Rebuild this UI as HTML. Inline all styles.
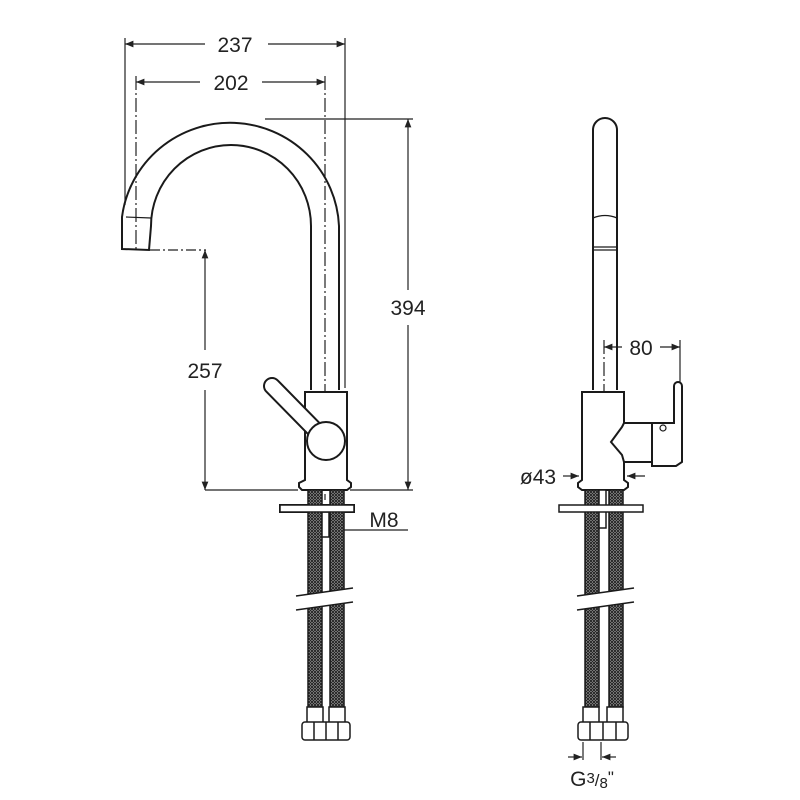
<!DOCTYPE html>
<html><head><style>html,body{margin:0;padding:0;background:#fff}svg{display:block}</style></head>
<body>
<svg width="800" height="800" viewBox="0 0 800 800" xmlns="http://www.w3.org/2000/svg" font-family="Liberation Sans, sans-serif">
<defs>
<pattern id="br" width="3" height="3" patternUnits="userSpaceOnUse">
<rect width="3" height="3" fill="#bbb"/><path d="M0 0L3 3M3 0L0 3" stroke="#222" stroke-width="1"/></pattern>
<marker id="ar" viewBox="0 0 10 10" refX="10" refY="5" markerWidth="7" markerHeight="7" orient="auto-start-reverse"><path d="M0 1L10 5L0 9z" fill="#222"/></marker>
</defs>
<g fill="none" stroke="#222" stroke-width="1.2">
<line x1="125" y1="38" x2="125" y2="205"/>
<line x1="345" y1="38" x2="345" y2="388"/>
<line x1="125" y1="44" x2="205" y2="44" marker-start="url(#ar)"/>
<line x1="268" y1="44" x2="345" y2="44" marker-end="url(#ar)"/>
<line x1="136" y1="76" x2="136" y2="250" stroke-dasharray="14 3 2 3"/>
<line x1="325" y1="76" x2="325" y2="500" stroke-dasharray="14 3 2 3"/>
<line x1="136" y1="82" x2="200" y2="82" marker-start="url(#ar)"/>
<line x1="262" y1="82" x2="325" y2="82" marker-end="url(#ar)"/>
<line x1="265" y1="119" x2="413" y2="119"/>
<line x1="408" y1="119" x2="408" y2="290" marker-start="url(#ar)"/>
<line x1="408" y1="325" x2="408" y2="490" marker-end="url(#ar)"/>
<line x1="350" y1="490" x2="413" y2="490"/>
<line x1="205" y1="490" x2="298" y2="490"/>
<line x1="150" y1="250" x2="206" y2="250" stroke-dasharray="10 3 2 3"/>
<line x1="205" y1="250" x2="205" y2="350" marker-start="url(#ar)"/>
<line x1="205" y1="390" x2="205" y2="490" marker-end="url(#ar)"/>
<line x1="330" y1="530" x2="408" y2="530"/>
<line x1="604" y1="340" x2="604" y2="505" stroke-dasharray="14 3 2 3"/>
<line x1="604" y1="347" x2="622" y2="347" marker-start="url(#ar)"/>
<line x1="660" y1="347" x2="680" y2="347" marker-end="url(#ar)"/>
<line x1="680" y1="340" x2="680" y2="385"/>
<line x1="563" y1="476" x2="579" y2="476" marker-end="url(#ar)"/>
<line x1="645" y1="476" x2="627" y2="476" marker-end="url(#ar)"/>
<line x1="583" y1="742" x2="583" y2="760"/><line x1="601" y1="742" x2="601" y2="760"/>
<line x1="568" y1="757" x2="582" y2="757" marker-end="url(#ar)"/>
<line x1="616" y1="757" x2="602" y2="757" marker-end="url(#ar)"/>
</g>
<g fill="none" stroke="#1a1a1a" stroke-width="2">
<path d="M339 390 V226 A109 108 0 0 0 122 217 L122 249 L149 250 L151 226 A80 81 0 0 1 311 226 V390"/>
<line x1="126" y1="217" x2="151" y2="218" stroke-width="1.2"/>
<path d="M305 392 H347 V480 L351 483 V487 L347 490 H302 L299 487 V483 L305 480 Z" fill="#fff"/>
<line x1="272" y1="386" x2="326" y2="441" stroke-width="18" stroke-linecap="round"/>
<line x1="272" y1="386" x2="326" y2="441" stroke="#fff" stroke-width="14" stroke-linecap="round"/>
<circle cx="326" cy="441" r="19" fill="#fff"/>
<rect x="280" y="505" width="74" height="7" fill="#fff"/>
<path d="M593 390 V130 A12 12 0 0 1 617 130 V390"/>
<path d="M593 218 Q605 213 617 218 M593 247 H617 M593 250 H617" stroke-width="1.3"/>
<path d="M582 392 H624 V480 L628 483 V487 L624 490 H582 L578 487 V483 L582 480 Z" fill="#fff"/>
<path d="M624 423 H652 V462 H624 L622 455 L611 442 L622 427 Z" fill="#fff"/>
<path d="M652 423 H674 V386 A4 4 0 0 1 682 386 V462 L676 466 H652 Z" fill="#fff"/>
<circle cx="663" cy="428" r="3" stroke-width="1.2"/>
</g>
<g stroke="#1a1a1a" stroke-width="1.5" fill="url(#br)">
<rect x="308" y="490" width="14" height="217"/><rect x="330" y="490" width="14" height="217"/>
<rect x="585" y="490" width="14" height="217"/><rect x="609" y="490" width="14" height="217"/>
<rect x="599" y="490" width="7" height="38" fill="#fff"/>
<rect x="322" y="512" width="7" height="25" fill="#fff"/>
</g>
<g stroke="#1a1a1a" stroke-width="1.5" fill="#fff">
<rect x="280" y="505" width="74" height="7"/><rect x="559" y="505" width="84" height="7"/>
<path d="M296 596 L353 588 L353 602 L296 610Z" stroke="none"/>
<path d="M296 596 L353 588 M296 610 L353 602"/>
<path d="M577 596 L634 588 L634 602 L577 610Z" stroke="none"/>
<path d="M577 596 L634 588 M577 610 L634 602"/>
<rect x="307" y="707" width="16" height="16"/><rect x="329" y="707" width="16" height="16"/>
<rect x="302" y="722" width="48" height="18" rx="3"/>
<path d="M314 722V740M326 722V740M338 722V740"/>
<rect x="583" y="707" width="16" height="16"/><rect x="607" y="707" width="16" height="16"/>
<rect x="578" y="722" width="50" height="18" rx="3"/>
<path d="M590 722V740M603 722V740M616 722V740"/>
</g>
<g fill="#222" font-size="21" text-anchor="middle">
<text x="235" y="52">237</text>
<text x="231" y="90">202</text>
<text x="408" y="315">394</text>
<text x="205" y="378">257</text>
<text x="384" y="527">M8</text>
<text x="641" y="355">80</text>
<text x="538" y="484">ø43</text>
<text x="592" y="786">G<tspan font-size="15" dy="-3">3</tspan><tspan font-size="17" dy="3">/</tspan><tspan font-size="15" dy="2">8</tspan><tspan font-size="17" dy="-5">"</tspan></text>
</g>
</svg>
</body></html>
